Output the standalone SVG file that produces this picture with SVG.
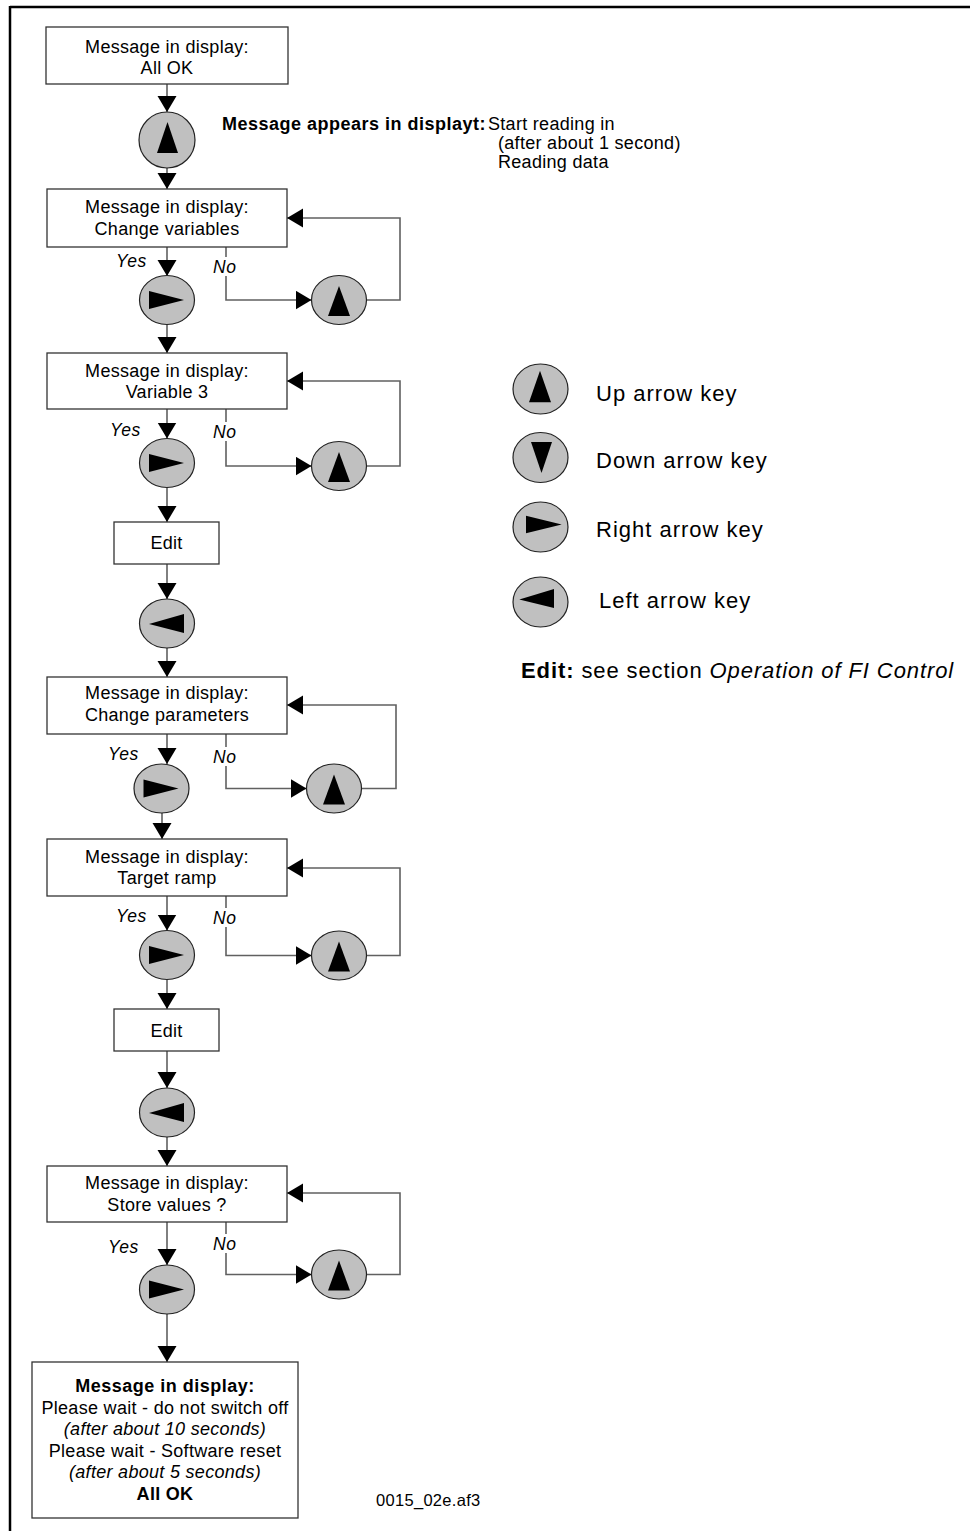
<svg xmlns="http://www.w3.org/2000/svg" width="970" height="1531" viewBox="0 0 970 1531">
<style>
.box{fill:#fff;stroke:#333;stroke-width:1.3}
.key{fill:#c0c0c0;stroke:#222;stroke-width:1.2}
.tri{fill:#000}
.con{fill:none;stroke:#606060;stroke-width:1.6}
.t{font-family:"Liberation Sans",Arial,sans-serif;font-size:18px;letter-spacing:0.3px;fill:#000}
.c{text-anchor:middle}
.b{font-weight:bold}
.i{font-style:italic}
.lg{font-family:"Liberation Sans",Arial,sans-serif;font-size:22px;letter-spacing:1px;fill:#000}
.yn{font-family:"Liberation Sans",Arial,sans-serif;font-size:17.5px;font-style:italic;letter-spacing:0.5px;fill:#000}
</style>
<defs>
<marker id="ah" markerUnits="userSpaceOnUse" markerWidth="17" markerHeight="20" refX="16" refY="9.5" orient="auto">
<path d="M0,0 L16,9.5 L0,19 Z" fill="#000"/>
</marker>
<g id="kUp"><ellipse class="key" cx="0" cy="0" rx="27.5" ry="24.5"/><polygon class="tri" points="0,-14 -11,16 11,16"/></g>
<g id="kRight"><ellipse class="key" cx="0" cy="0" rx="27.5" ry="24.5"/><polygon class="tri" points="-18,-9 -18,9 17,0"/></g>
<g id="kLeft"><ellipse class="key" cx="0" cy="0" rx="27.5" ry="24.5"/><polygon class="tri" points="-18,0.5 17,-9.5 17,9.5"/></g>
</defs>
<rect width="970" height="1531" fill="#fff"/>
<g id="frame" stroke="#000" stroke-width="2.5" fill="none">
<line x1="10" y1="7" x2="970" y2="7"/>
<line x1="10" y1="6" x2="10" y2="1531"/>
</g>

<g id="connectors">
<line class="con" x1="167" y1="84" x2="167" y2="112" marker-end="url(#ah)"/>
<line class="con" x1="167" y1="168" x2="167" y2="189" marker-end="url(#ah)"/>
<line class="con" x1="167" y1="247" x2="167" y2="276" marker-end="url(#ah)"/>
<line class="con" x1="226" y1="247" x2="226" y2="257"/>
<polyline class="con" points="226,276 226,300 311.5,300" marker-end="url(#ah)"/>
<polyline class="con" points="366.5,300 400,300 400,218 287,218" marker-end="url(#ah)"/>
<line class="con" x1="167" y1="324.5" x2="167" y2="353" marker-end="url(#ah)"/>
<line class="con" x1="167" y1="409" x2="167" y2="438.5" marker-end="url(#ah)"/>
<line class="con" x1="226" y1="409" x2="226" y2="422"/>
<polyline class="con" points="226,441 226,466 311.5,466" marker-end="url(#ah)"/>
<polyline class="con" points="366.5,466 400,466 400,381 287,381" marker-end="url(#ah)"/>
<line class="con" x1="167" y1="487.5" x2="167" y2="522" marker-end="url(#ah)"/>
<line class="con" x1="167" y1="564" x2="167" y2="599" marker-end="url(#ah)"/>
<line class="con" x1="167" y1="648" x2="167" y2="677" marker-end="url(#ah)"/>
<line class="con" x1="167" y1="734" x2="167" y2="764" marker-end="url(#ah)"/>
<line class="con" x1="226" y1="734" x2="226" y2="747"/>
<polyline class="con" points="226,766 226,788.5 306.5,788.5" marker-end="url(#ah)"/>
<polyline class="con" points="361.5,788.5 396,788.5 396,705 287,705" marker-end="url(#ah)"/>
<line class="con" x1="162" y1="813" x2="162" y2="839" marker-end="url(#ah)"/>
<line class="con" x1="167" y1="896" x2="167" y2="930.5" marker-end="url(#ah)"/>
<line class="con" x1="226" y1="896" x2="226" y2="908"/>
<polyline class="con" points="226,927 226,955.5 311.5,955.5" marker-end="url(#ah)"/>
<polyline class="con" points="366.5,955.5 400,955.5 400,868 287,868" marker-end="url(#ah)"/>
<line class="con" x1="167" y1="979.5" x2="167" y2="1009" marker-end="url(#ah)"/>
<line class="con" x1="167" y1="1051" x2="167" y2="1088" marker-end="url(#ah)"/>
<line class="con" x1="167" y1="1137" x2="167" y2="1166" marker-end="url(#ah)"/>
<line class="con" x1="167" y1="1222" x2="167" y2="1265" marker-end="url(#ah)"/>
<line class="con" x1="226" y1="1222" x2="226" y2="1234"/>
<polyline class="con" points="226,1253 226,1274.5 311.5,1274.5" marker-end="url(#ah)"/>
<polyline class="con" points="366.5,1274.5 400,1274.5 400,1193 287,1193" marker-end="url(#ah)"/>
<line class="con" x1="167" y1="1314" x2="167" y2="1362" marker-end="url(#ah)"/>
</g>

<g id="n-allok">
<rect class="box" x="46" y="27" width="242" height="57"/>
<text class="t c" x="167" y="53">Message in display:</text>
<text class="t c" x="167" y="73.5">All OK</text>
</g>
<g id="k-up1">
<ellipse class="key" cx="167" cy="140" rx="28" ry="28"/>
<polygon class="tri" points="167.5,122 157,153 178,153"/>
</g>
<g id="n-note">
<text class="t b" x="222" y="130" style="letter-spacing:0.5px">Message appears in displayt:</text>
<text class="t" x="488" y="130">Start reading in</text>
<text class="t" x="498" y="149">(after about 1 second)</text>
<text class="t" x="498" y="168">Reading data</text>
</g>

<g id="n-changevar">
<rect class="box" x="47" y="189" width="240" height="58"/>
<text class="t c" x="167" y="213.3">Message in display:</text>
<text class="t c" x="167" y="235">Change variables</text>
<text class="yn" x="116" y="267">Yes</text>
<text class="yn" x="213" y="273">No</text>
</g>
<use id="k-r1" href="#kRight" x="167" y="300"/>
<use id="k-u1" href="#kUp" x="339" y="300"/>

<g id="n-var3">
<rect class="box" x="47" y="353" width="240" height="56"/>
<text class="t c" x="167" y="376.7">Message in display:</text>
<text class="t c" x="167" y="398">Variable 3</text>
<text class="yn" x="110" y="436">Yes</text>
<text class="yn" x="213" y="438">No</text>
</g>
<use id="k-r2" href="#kRight" x="167" y="463"/>
<use id="k-u2" href="#kUp" x="339" y="466"/>

<g id="n-edit1">
<rect class="box" x="114" y="522" width="105" height="42"/>
<text class="t c" x="166.5" y="549">Edit</text>
</g>
<use id="k-l1" href="#kLeft" x="167" y="623.5"/>

<g id="n-changepar">
<rect class="box" x="47" y="677" width="240" height="57"/>
<text class="t c" x="167" y="699">Message in display:</text>
<text class="t c" x="167" y="721">Change parameters</text>
<text class="yn" x="108" y="760">Yes</text>
<text class="yn" x="213" y="763">No</text>
</g>
<use id="k-r3" href="#kRight" x="161.5" y="788.5"/>
<use id="k-u3" href="#kUp" x="334" y="788.5"/>

<g id="n-target">
<rect class="box" x="47" y="839" width="240" height="57"/>
<text class="t c" x="167" y="862.7">Message in display:</text>
<text class="t c" x="167" y="884">Target ramp</text>
<text class="yn" x="116" y="922">Yes</text>
<text class="yn" x="213" y="924">No</text>
</g>
<use id="k-r4" href="#kRight" x="167" y="955"/>
<use id="k-u4" href="#kUp" x="339" y="955.5"/>

<g id="n-edit2">
<rect class="box" x="114" y="1009" width="105" height="42"/>
<text class="t c" x="166.5" y="1036.7">Edit</text>
</g>
<use id="k-l2" href="#kLeft" x="167" y="1112.5"/>

<g id="n-store">
<rect class="box" x="47" y="1166" width="240" height="56"/>
<text class="t c" x="167" y="1189">Message in display:</text>
<text class="t c" x="167" y="1210.7">Store values ?</text>
<text class="yn" x="108" y="1253">Yes</text>
<text class="yn" x="213" y="1250">No</text>
</g>
<use id="k-r5" href="#kRight" x="167" y="1289.5"/>
<use id="k-u5" href="#kUp" x="339" y="1274.5"/>

<g id="n-final">
<rect class="box" x="32" y="1362" width="266" height="156"/>
<text class="t c b" x="165" y="1392" style="letter-spacing:0.5px">Message in display:</text>
<text class="t c" x="165" y="1413.5">Please wait - do not switch off</text>
<text class="t c i" x="165" y="1435">(after about 10 seconds)</text>
<text class="t c" x="165" y="1456.7">Please wait - Software reset</text>
<text class="t c i" x="165" y="1478.3">(after about 5 seconds)</text>
<text class="t c b" x="165" y="1500">All OK</text>
</g>
<text id="fileref" class="t" x="376" y="1506" style="font-size:16.5px">0015_02e.af3</text>

<g id="legend">
<g id="lg-up">
<ellipse class="key" cx="540.5" cy="389" rx="27.5" ry="25"/>
<polygon class="tri" points="540,370.7 529,402.3 551,402.3"/>
<text class="lg" x="596" y="401">Up arrow key</text>
</g>
<g id="lg-down">
<ellipse class="key" cx="540.5" cy="457.5" rx="27.5" ry="25"/>
<polygon class="tri" points="531,442 552,442 541.5,473"/>
<text class="lg" x="596" y="468">Down arrow key</text>
</g>
<g id="lg-right">
<ellipse class="key" cx="540.5" cy="527" rx="27.5" ry="25"/>
<polygon class="tri" points="526,515.7 526,533.3 561.7,524.5"/>
<text class="lg" x="596" y="537">Right arrow key</text>
</g>
<g id="lg-left">
<ellipse class="key" cx="540.5" cy="602" rx="27.5" ry="25"/>
<polygon class="tri" points="519.3,599.5 554,589 554,608"/>
<text class="lg" x="599" y="608">Left arrow key</text>
</g>
<text class="lg" x="521" y="678" style="letter-spacing:0.9px"><tspan font-weight="bold">Edit:</tspan> see section <tspan font-style="italic">Operation of FI Control</tspan></text>
</g>
</svg>
